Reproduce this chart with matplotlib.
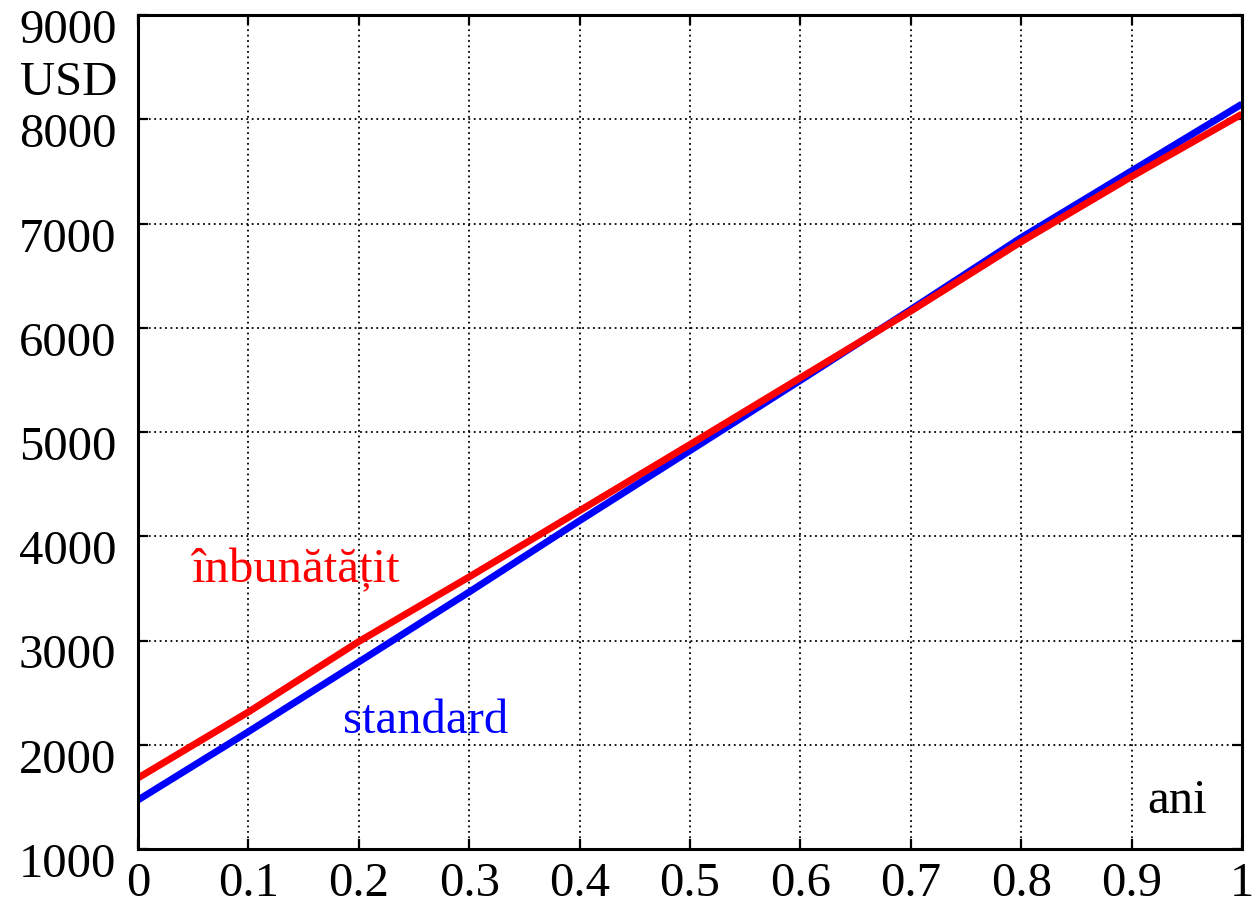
import matplotlib
matplotlib.use("Agg")
import matplotlib.pyplot as plt
import matplotlib.transforms as mtrans
import numpy as np

plt.rcParams['font.family'] = ['Liberation Serif', 'DejaVu Serif']

# ani (fraction of year) vs cost in USD
ani = [0.0, 0.1, 0.2, 0.3, 0.4, 0.5, 0.6, 0.7, 0.8, 0.9, 1.0]
imbunatatit = [1681, 2314, 2990, 3610, 4245, 4880, 5520, 6160, 6825, 7450, 8050]
standard = [1470, 2125, 2794, 3465, 4149, 4821, 5495, 6175, 6865, 7505, 8146]

xticks = [0, 0.1, 0.2, 0.3, 0.4, 0.5, 0.6, 0.7, 0.8, 0.9, 1]
xticklabels = ['0', '0.1', '0.2', '0.3', '0.4', '0.5', '0.6', '0.7', '0.8', '0.9', '1']
yticks = [1000, 2000, 3000, 4000, 5000, 6000, 7000, 8000, 9000]

fs = 35

fig = plt.figure(figsize=(12.56, 9.12), dpi=100)
ax = fig.add_axes([138/1256, 1-850/912, (1242-138)/1256, (850-16)/912])

ax.plot(ani, standard, color='#0000ff', lw=5, solid_capstyle='butt')
ax.plot(ani, imbunatatit, color='#ff0000', lw=5, solid_capstyle='butt')

ax.set_xlim(0, 1)
ax.set_ylim(1000, 9000)
ax.set_xticks(xticks)
ax.set_xticklabels(xticklabels)
ax.set_yticks(yticks)
ax.grid(True, color='black', linestyle=(0, (1, 2)), lw=1.3)

for s in ax.spines.values():
    s.set_linewidth(2.2)
ax.tick_params(direction='in', length=7, width=1.6, top=True, right=True,
               labelsize=fs)
ax.tick_params(axis='y', pad=15.5)
ax.tick_params(axis='x', pad=9)

# y labels sit a little below their ticks in the original
shift = mtrans.ScaledTranslation(0, -10/100, fig.dpi_scale_trans)
for lab in ax.get_yticklabels():
    lab.set_transform(lab.get_transform() + shift)

ax.text(0.049, 3573, 'înbunătățit', color='#ff0000', fontsize=fs, va='baseline')
ax.text(0.186, 2122, 'standard', color='#0000ff', fontsize=fs, va='baseline')
ax.text(0.914, 1355, 'ani', color='black', fontsize=fs, va='baseline')
fig.text(20/1256, 1-95/912, 'USD', fontsize=fs, va='baseline')

fig.savefig('out.png', dpi=100)
